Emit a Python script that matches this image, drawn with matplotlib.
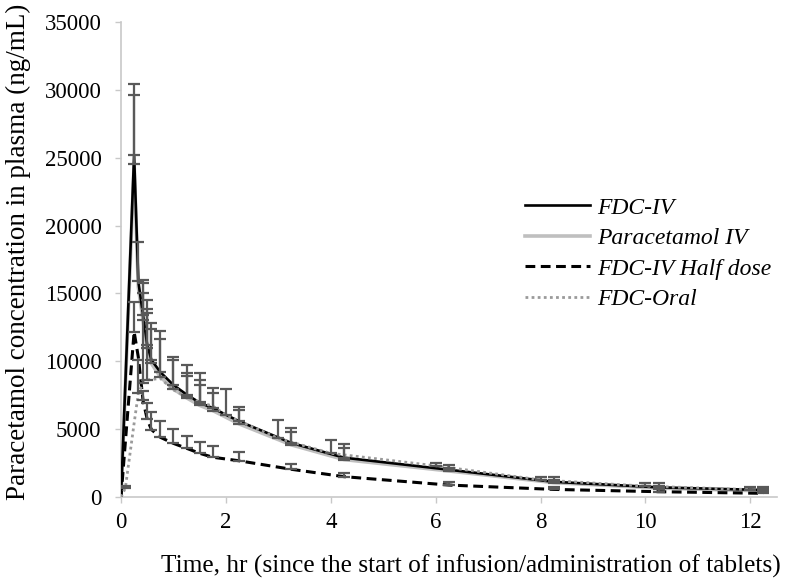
import matplotlib
matplotlib.use("Agg")
import matplotlib.pyplot as plt
import numpy as np

# ---- data ----
t_iv = [0, 0.25, 0.33, 0.42, 0.5, 0.58, 0.75, 1.0, 1.25, 1.5, 1.75, 2.25, 3.25, 4.25, 6.25, 8.25, 10.25, 12.25]
fdc_iv = [0, 25200, 15900, 13400, 11200, 10100, 9200, 8250, 7550, 6950, 6550, 5580, 3980, 2900, 2010, 1120, 710, 515]
fdc_iv_top = [None, 30450, 18810, 15990, 14520, 12830, 12260, 10330, 9730, 9140, 8030, 6650, 5110, 3880, 2360, 1450, 1010, 710]
para_iv = [0, 24550, 15460, 13020, 10960, 9840, 8850, 7960, 7310, 6750, 6370, 5390, 3840, 2760, 1920, 1060, 660, 450]
para_iv_top = [None, 29610, None, 15010, 13870, 12380, 11650, 10100, 9160, 8620, 7680, 6410, 4820, 3590, 2120, 1260, 810, 610]
half_dose = [0, 12180, 10310, 7120, 5720, 4970, 4400, 3950, 3590, 3220, 2930, 2670, 2040, 1500, 880, 560, 390, 270]
half_dose_top = [None, 14370, None, 7830, 6920, 6290, 5620, 4980, 4520, 4030, 3790, 3340, 2440, 1790, 1120, 760, 560, 375]

t_oral = [0, 0.083, 0.25, 0.33, 0.42, 0.5, 0.75, 1.0, 1.25, 1.5, 1.75, 2.0, 3.0, 4.0, 6.0, 8.0, 10.0, 12.0]
fdc_oral = [0, 660, 5430, 7640, 8380, 8620, 8740, 7890, 7390, 6980, 6700, 6040, 4320, 3220, 2300, 1260, 800, 545]
fdc_oral_top = [None, 815, None, 10100, 15740, 13560, None, None, 8920, 8250, None, 7960, 5670, 4200, 2480, 1500, 1050, 710]

labels = ["FDC-IV", "Paracetamol IV", "FDC-IV Half dose", "FDC-Oral"]
x_ticks = [0, 2, 4, 6, 8, 10, 12]
y_ticks = [0, 5000, 10000, 15000, 20000, 25000, 30000, 35000]

plt.rcParams['font.family'] = ['Liberation Serif', 'DejaVu Serif']

fig = plt.figure(figsize=(7.86, 5.80), dpi=100)
ax = fig.add_axes([121/786, 83/580, (776.6-121)/786, (497-22)/580])

err_col = '#595959'

def draw_err(t, mean, top):
    xs, ys, es = [], [], []
    for ti, m, tp in zip(t, mean, top):
        if tp is not None:
            xs.append(ti); ys.append(m); es.append(tp - m)
    ax.errorbar(xs, ys, yerr=[np.zeros(len(es)), es], fmt='none', ecolor=err_col,
                elinewidth=1.6, capsize=4, capthick=1.6, zorder=5)

draw_err(t_iv, fdc_iv, fdc_iv_top)
draw_err(t_iv, para_iv, para_iv_top)
draw_err(t_iv, half_dose, half_dose_top)
draw_err(t_oral, fdc_oral, fdc_oral_top)

l2, = ax.plot(t_iv, para_iv, color='#BFBFBF', lw=2.6, zorder=3, label=labels[1])
l1, = ax.plot(t_iv, fdc_iv, color='black', lw=1.9, zorder=4, label=labels[0])
l3, = ax.plot(t_iv, half_dose, color='black', lw=2.2, ls=(0, (3.2, 1.8)), zorder=4, label=labels[2])
l4, = ax.plot(t_oral, fdc_oral, color='#9A9A9A', lw=2.0, ls=(0, (1, 1.2)), zorder=4, label=labels[3])

ax.set_xlim(0, 12.5)
ax.set_ylim(0, 35000)
ax.set_xticks(x_ticks)
ax.set_yticks(y_ticks)
for s in ['top', 'right']:
    ax.spines[s].set_visible(False)
for s in ['left', 'bottom']:
    ax.spines[s].set_color('#C8C8C8')
    ax.spines[s].set_linewidth(1.2)
ax.tick_params(axis='both', colors='#C8C8C8', labelcolor='black', labelsize=16.5, length=4, width=1)
ax.tick_params(axis='y', pad=10)
ax.tick_params(axis='x', pad=7)

ax.set_xlabel("Time, hr (since the start of infusion/administration of tablets)", fontsize=18.3)
ax.set_ylabel("Paracetamol concentration in plasma (ng/mL)", fontsize=19.5)
ax.xaxis.set_label_coords(0.534, -0.122)
ax.yaxis.set_label_coords(-0.137, 0.516)

leg = fig.legend(handles=[l1, l2, l3, l4], labels=labels, loc='upper left',
                 bbox_to_anchor=(525/786, (580-197)/580), frameon=False,
                 prop={'style': 'italic', 'size': 17}, handlelength=2.75,
                 handletextpad=0.3, labelspacing=0.38, borderpad=0, borderaxespad=0)

fig.savefig("out.png", dpi=100)
